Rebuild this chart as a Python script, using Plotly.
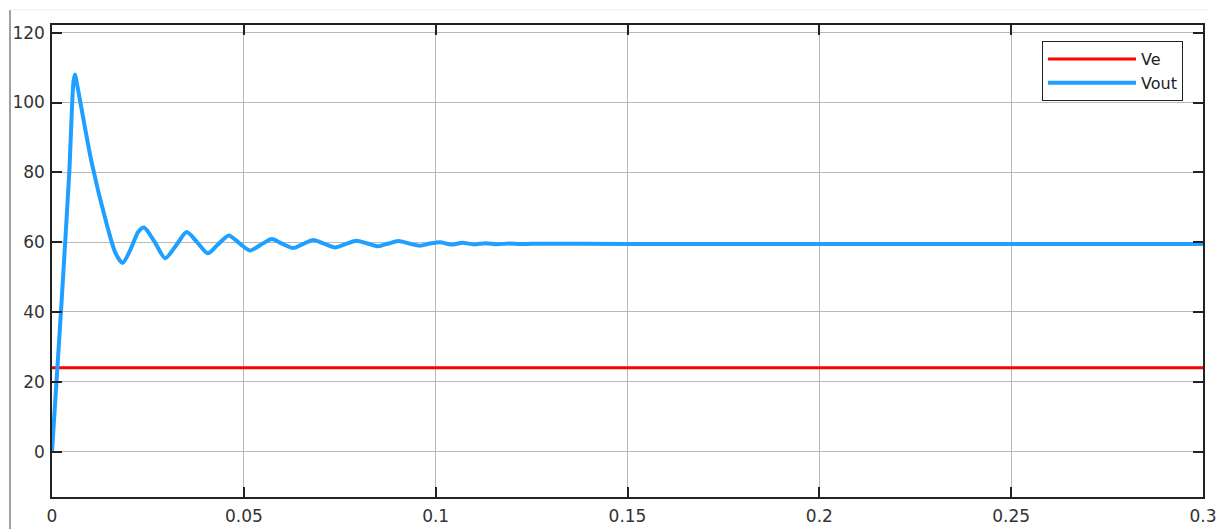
import plotly.graph_objects as go

# Time (s) and Vout (V)
t_out = [0, 0.0014, 0.0025, 0.0045, 0.0056, 0.0060, 0.0064, 0.0103, 0.0143, 0.0165, 0.0184,
         0.0205, 0.0225, 0.0240, 0.0268, 0.0295, 0.0323, 0.0351, 0.0378, 0.0406,
         0.0433, 0.0461, 0.0488, 0.0516, 0.0545, 0.0573, 0.0601, 0.0629, 0.0655,
         0.0681, 0.0710, 0.0738, 0.0766, 0.0794, 0.0822, 0.0850, 0.0877, 0.0903,
         0.0931, 0.0959, 0.0985, 0.1011, 0.1040, 0.1070, 0.1100, 0.1130, 0.1160,
         0.1190, 0.1220, 0.1250, 0.15, 0.2, 0.25, 0.3]
v_out = [0, 24, 43, 80, 106, 108, 106, 83, 65, 57, 54,
         58, 63, 64.2, 60, 55.4, 59, 62.9, 60, 56.8,
         59.4, 61.9, 59.7, 57.6, 59.3, 60.9, 59.5, 58.3, 59.5,
         60.6, 59.5, 58.5, 59.5, 60.4, 59.6, 58.8, 59.6, 60.3,
         59.6, 59.0, 59.6, 60.0, 59.3, 59.8, 59.35, 59.7, 59.4,
         59.6, 59.45, 59.55, 59.5, 59.5, 59.5, 59.5]

# Input voltage Ve (constant)
t_e = [0, 0.3]
v_e = [24, 24]

x_ticks = [0, 0.05, 0.1, 0.15, 0.2, 0.25, 0.3]
x_labels = ["0", "0.05", "0.1", "0.15", "0.2", "0.25", "0.3"]
y_ticks = [0, 20, 40, 60, 80, 100, 120]
y_labels = ["0", "20", "40", "60", "80", "100", "120"]

FONT = "DejaVu Sans, Liberation Sans, Arial, sans-serif"

fig = go.Figure()
fig.add_trace(go.Scatter(x=t_e, y=v_e, mode="lines", name="Ve",
                         line=dict(color="#ff0000", width=3)))
fig.add_trace(go.Scatter(x=t_out, y=v_out, mode="lines", name="Vout",
                         line=dict(color="#1f9fff", width=4, shape="spline", smoothing=0.7)))

axis_common = dict(showgrid=True, gridcolor="#b8b8b8", gridwidth=1,
                   showline=True, linecolor="#222222", linewidth=1.5, mirror="ticks",
                   ticks="inside", ticklen=10, tickcolor="#222222", tickwidth=1.5,
                   zeroline=False, automargin=False,
                   tickfont=dict(family=FONT, size=17, color="#333333"))

fig.update_xaxes(range=[0, 0.3], tickvals=x_ticks, ticktext=x_labels, ticklabelstandoff=3, **axis_common)
fig.update_yaxes(range=[-13, 122.2], tickvals=y_ticks, ticktext=y_labels, ticklabelstandoff=2, **axis_common)

# page body has an 8px margin, so the figure is shrunk and the margins compensated
fig.update_layout(
    width=1217, height=521,
    margin=dict(l=44, r=22, t=17, b=32),
    paper_bgcolor="white", plot_bgcolor="white",
    showlegend=True,
    legend=dict(x=1 - 20 / 1151, y=1 - 16 / 472, xanchor="right", yanchor="top",
                bgcolor="white", bordercolor="#222222", borderwidth=1,
                font=dict(family=FONT, size=16, color="#222222"),
                tracegroupgap=0, itemwidth=88),
    shapes=[
        dict(type="line", xref="paper", yref="paper", x0=-0.0365, x1=-0.0365, y0=-0.07, y1=1.032,
             line=dict(color="#a0a0a0", width=2)),
        dict(type="line", xref="paper", yref="paper", x0=-0.0365, x1=1.005, y0=1.032, y1=1.032,
             line=dict(color="#eeeeee", width=1)),
    ],
)

fig.write_html("out.html")
